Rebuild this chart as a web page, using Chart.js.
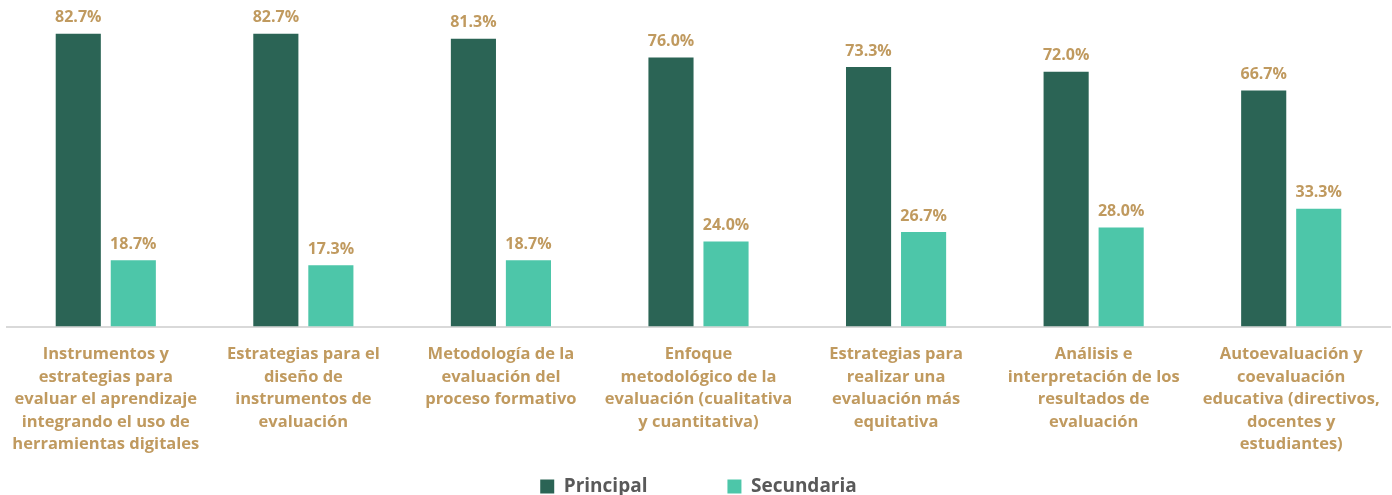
<!DOCTYPE html>
<html><head><meta charset="utf-8">
<script src="https://cdn.jsdelivr.net/npm/chart.js@4.4.1/dist/chart.umd.min.js"></script>
<style>
html,body{margin:0;padding:0;background:#fff;overflow:hidden;}
#wrap{position:relative;width:1392px;height:506px;}
</style></head>
<body>
<div id="wrap"><canvas id="c"></canvas></div>
<script>
const categories = [
  ["Instrumentos y","estrategias para","evaluar el aprendizaje","integrando el uso de","herramientas digitales"],
  ["Estrategias para el","diseño de","instrumentos de","evaluación"],
  ["Metodología de la","evaluación del","proceso formativo"],
  ["Enfoque","metodológico de la","evaluación (cualitativa","y cuantitativa)"],
  ["Estrategias para","realizar una","evaluación más","equitativa"],
  ["Análisis e","interpretación de los","resultados de","evaluación"],
  ["Autoevaluación y","coevaluación","educativa (directivos,","docentes y","estudiantes)"]
];
const principal = [82.7, 82.7, 81.3, 76.0, 73.3, 72.0, 66.7];
const secundaria = [18.7, 17.3, 18.7, 24.0, 26.7, 28.0, 33.3];
const seriesNames = ["Principal", "Secundaria"];

const FONT = "'Open Sans', sans-serif";
const GOLD = "#C09A5F";

const valueLabels = {
  id: 'valueLabels',
  afterDatasetsDraw(chart) {
    const ctx = chart.ctx;
    ctx.save();
    ctx.font = "bold 16px " + FONT;
    ctx.fillStyle = GOLD;
    ctx.textAlign = 'center';
    ctx.textBaseline = 'bottom';
    chart.data.datasets.forEach((ds, di) => {
      chart.getDatasetMeta(di).data.forEach((bar, i) => {
        ctx.fillText(ds.data[i].toFixed(1) + '%', bar.x, bar.y - 8);
      });
    });
    ctx.restore();
  }
};

new Chart(document.getElementById('c'), {
  type: 'bar',
  data: {
    labels: categories,
    datasets: [
      { label: seriesNames[0], data: principal, backgroundColor: '#2B6455', barPercentage: 0.82, categoryPercentage: 0.557 },
      { label: seriesNames[1], data: secundaria, backgroundColor: '#4DC6A9', barPercentage: 0.82, categoryPercentage: 0.557 }
    ]
  },
  options: {
    responsive: true,
    maintainAspectRatio: false,
    animation: false,
    layout: { padding: { left: 7, right: 2, top: 8, bottom: 0 } },
    scales: {
      y: { display: false, min: 0, max: 90 },
      x: {
        grid: { display: false, drawTicks: false },
        border: { display: true, color: '#D9D9D9', width: 2 },
        afterFit(scale) { scale.paddingLeft = 0; scale.paddingRight = 0; },
        ticks: {
          autoSkip: false, maxRotation: 0, minRotation: 0,
          color: GOLD, padding: 17,
          font: { family: FONT, size: 16.5, weight: 'bold', lineHeight: '22.5px' }
        }
      }
    },
    plugins: {
      tooltip: { enabled: false },
      legend: {
        position: 'bottom',
        labels: {
          boxWidth: 14, boxHeight: 14, padding: 4,
          color: '#595959',
          font: { family: FONT, size: 19, weight: 'bold' },
          generateLabels(chart) {
            const items = Chart.defaults.plugins.legend.labels.generateLabels(chart);
            items.forEach((it, i) => {
              it.lineWidth = 0;
              if (i === 0) it.text = it.text + '\u2003\u2003\u2003\u2003';
            });
            return items;
          }
        }
      }
    }
  },
  plugins: [valueLabels]
});
</script>
</body></html>
